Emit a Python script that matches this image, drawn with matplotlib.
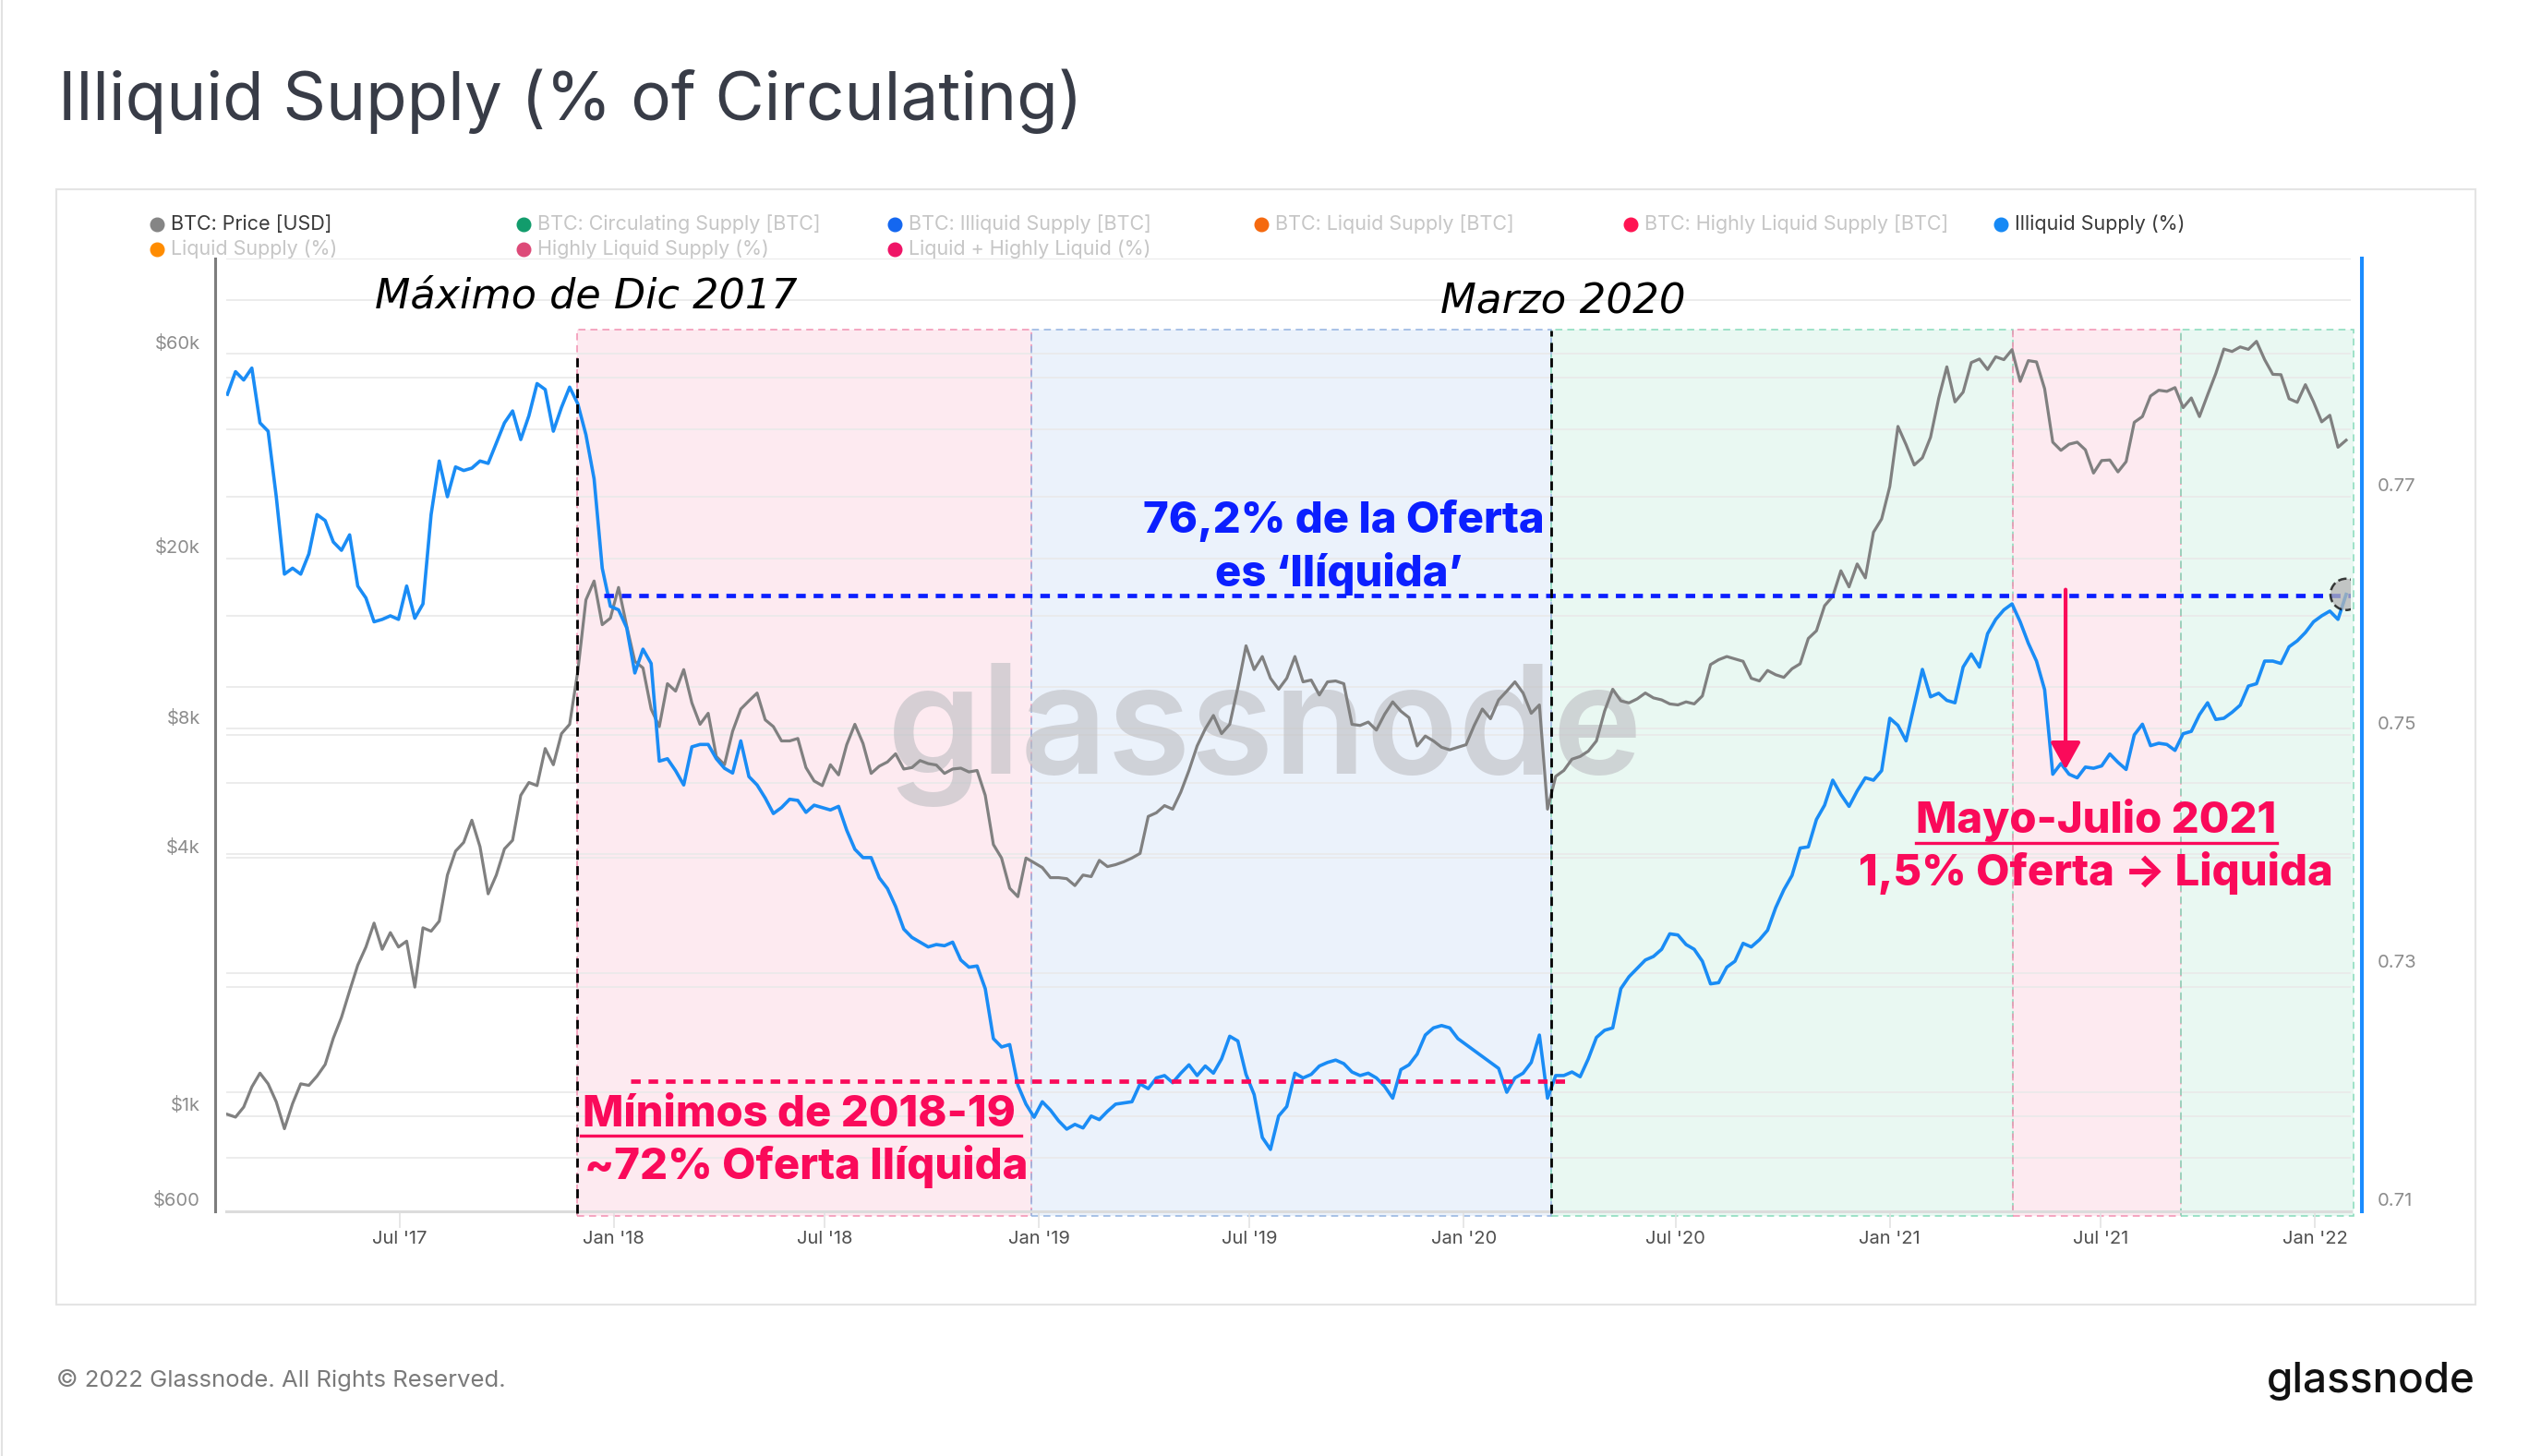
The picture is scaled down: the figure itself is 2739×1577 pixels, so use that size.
import numpy as np
import pandas as pd
import matplotlib
matplotlib.use('Agg')
import matplotlib.pyplot as plt
import matplotlib.dates as mdates
import matplotlib.transforms as mtransforms
from matplotlib.patches import Rectangle, Circle
from matplotlib.lines import Line2D
from matplotlib.ticker import NullLocator

plt.rcParams['font.family'] = ['Inter', 'DejaVu Sans']

# ---- data (weekly, Fridays, 2017-02-03 .. 2022-01-28) ----
weeks = pd.date_range('2017-02-03', periods=261, freq='7D')

btc_price = [
    # 2017
    1010, 995, 1050, 1170,
    1260, 1190, 1080, 935, 1070,
    1190, 1180, 1240, 1320,
    1520, 1700, 1960, 2250,
    2480, 2820, 2450, 2680, 2480,
    2560, 2000, 2750, 2700,
    2850, 3650, 4150, 4350,
    4900, 4250, 3300, 3650, 4200,
    4400, 5600, 6000, 5900,
    7200, 6600, 7800, 8200,
    10900, 16000, 17700, 14000, 14500,
    # 2018
    17100, 13900, 11500, 11100,
    8900, 8100, 10200, 9800,
    11000, 9200, 8200, 8700, 6900,
    6600, 7900, 8900, 9300,
    9700, 8400, 8100, 7500,
    7500, 7600, 6500, 6050, 5900,
    6600, 6250, 7350, 8200,
    7400, 6300, 6550, 6700, 7000,
    6450, 6500, 6750, 6640,
    6590, 6300, 6450, 6480,
    6350, 6400, 5600, 4300, 4000,
    3400, 3250, 4000, 3900,
    # 2019
    3800, 3600, 3600, 3580,
    3450, 3650, 3620, 3950,
    3820, 3860, 3920, 4000, 4100,
    5000, 5100, 5300, 5200,
    5700, 6400, 7300, 8000, 8600,
    7800, 8200, 10000, 12500,
    11000, 11800, 10500, 9900,
    10500, 11800, 10300, 10400, 9600,
    10300, 10350, 10200, 8200,
    8150, 8300, 7950, 8650,
    9250, 8800, 8500, 7300, 7700,
    7500, 7250, 7150, 7250,
    # 2020
    7350, 8150, 8900, 8450, 9350,
    9800, 10300, 9700, 8700,
    9100, 5200, 6200, 6400,
    6800, 6900, 7100, 7500,
    8800, 9900, 9300, 9200, 9400,
    9700, 9450, 9350, 9150,
    9100, 9250, 9150, 9550, 11300,
    11600, 11800, 11650, 11500,
    10500, 10350, 10950, 10700,
    10550, 11050, 11350, 13000, 13550,
    15500, 16300, 18700, 17150,
    19400, 18000, 23000, 24700,
    # 2021
    29400, 40600, 36800, 33000, 34300,
    38300, 47200, 55900, 46300,
    48800, 57200, 58300, 55100,
    59000, 58100, 61300, 51700, 57800,
    57400, 49700, 37300, 35700,
    36900, 37300, 35800, 31600,
    33800, 33900, 31800, 33600, 41500,
    42800, 47800, 49300, 49000,
    50000, 44900, 47300, 42800,
    48100, 53900, 61500, 60700, 62200,
    61400, 64100, 58100, 53700,
    53600, 47100, 46200, 50800, 46300,
    # 2022
    41600, 43100, 36300, 37700,
]

illiquid_pct = [
    0.7786, 0.7805, 0.7798, 0.7808, 0.7762, 0.7755, 0.7700, 0.7635, 0.7640, 0.7635,
    0.7652, 0.7685, 0.7680, 0.7662, 0.7655, 0.7668, 0.7625, 0.7615, 0.7595, 0.7597,
    0.7600, 0.7597, 0.7625, 0.7598, 0.7610, 0.7685, 0.7730, 0.7700, 0.7725, 0.7722,
    0.7724, 0.7730, 0.7728, 0.7745, 0.7762, 0.7772, 0.7748, 0.7768, 0.7795, 0.7790,
    0.7755, 0.7775, 0.7792, 0.7778, 0.7752, 0.7715, 0.7640, 0.7608, 0.7605, 0.7590,
    0.7552, 0.7572, 0.7560, 0.7478, 0.7480, 0.7470, 0.7458, 0.7490, 0.7492, 0.7492,
    0.7480, 0.7472, 0.7468, 0.7495, 0.7465, 0.7458, 0.7447, 0.7434, 0.7439, 0.7446,
    0.7445, 0.7435, 0.7441, 0.7439, 0.7437, 0.7440, 0.7420, 0.7404, 0.7397, 0.7397,
    0.7380, 0.7371, 0.7356, 0.7337, 0.7330, 0.7326, 0.7322, 0.7324, 0.7323, 0.7326,
    0.7311, 0.7305, 0.7306, 0.7287, 0.7245, 0.7238, 0.7240, 0.7206, 0.7190, 0.7179,
    0.7192, 0.7185, 0.7176, 0.7169, 0.7173, 0.7170, 0.7180, 0.7177, 0.7184, 0.7190,
    0.7191, 0.7192, 0.7207, 0.7203, 0.7212, 0.7214, 0.7208, 0.7216, 0.7223, 0.7214,
    0.7222, 0.7216, 0.7228, 0.7247, 0.7243, 0.7215, 0.7198, 0.7162, 0.7152, 0.7180,
    0.7188, 0.7216, 0.7212, 0.7215, 0.7222, 0.7225, 0.7227, 0.7224, 0.7217, 0.7214,
    0.7216, 0.7212, 0.7205, 0.7195, 0.7219, 0.7223, 0.7232, 0.7248, 0.7254, 0.7256,
    0.7254, 0.7245, 0.7240, 0.7235, 0.7230, 0.7225, 0.7220, 0.7200, 0.7212, 0.7216,
    0.7225, 0.7248, 0.7195, 0.7214, 0.7214, 0.7217, 0.7213, 0.7228, 0.7246, 0.7252,
    0.7254, 0.7287, 0.7297, 0.7304, 0.7311, 0.7314, 0.7320, 0.7333, 0.7332, 0.7324,
    0.7320, 0.7310, 0.7291, 0.7292, 0.7305, 0.7310, 0.7325, 0.7322, 0.7328, 0.7336,
    0.7355, 0.7370, 0.7382, 0.7405, 0.7406, 0.7429, 0.7441, 0.7462, 0.7450, 0.7440,
    0.7453, 0.7464, 0.7462, 0.7470, 0.7514, 0.7508, 0.7495, 0.7525, 0.7555, 0.7532,
    0.7535, 0.7529, 0.7527, 0.7557, 0.7568, 0.7557, 0.7585, 0.7597, 0.7605, 0.7610,
    0.7595, 0.7577, 0.7562, 0.7538, 0.7467, 0.7476, 0.7467, 0.7464, 0.7473, 0.7472,
    0.7474, 0.7484, 0.7477, 0.7471, 0.7500, 0.7509, 0.7491, 0.7493, 0.7492, 0.7487,
    0.7501, 0.7503, 0.7517, 0.7527, 0.7513, 0.7514, 0.7519, 0.7525, 0.7541, 0.7543,
    0.7562, 0.7562, 0.7560, 0.7574, 0.7579, 0.7586, 0.7595, 0.7600, 0.7604, 0.7597,
    0.7618,
]

# phases shaded behind the lines
phase_start = ['2017-11-30', '2018-12-26', '2020-03-16', '2021-04-17', '2021-09-08']
phase_end = ['2018-12-26', '2020-03-16', '2021-04-17', '2021-09-08', '2022-02-03']
phase_kind = ['bear', 'accum', 'bull', 'bear', 'bull']

price_ticks = [600, 1000, 4000, 8000, 20000, 60000]
price_tick_labels = ['$600', '$1k', '$4k', '$8k', '$20k', '$60k']
price_grid = [600, 800, 1000, 2000, 4000, 6000, 8000, 10000, 20000, 40000, 60000, 80000, 100000]
illiq_ticks = [0.71, 0.73, 0.75, 0.77]
illiq_grid = [0.71, 0.72, 0.73, 0.74, 0.75, 0.76, 0.77, 0.78, 0.79]
date_ticks = ['2017-07-01', '2018-01-01', '2018-07-01', '2019-01-01', '2019-07-01',
              '2020-01-01', '2020-07-01', '2021-01-01', '2021-07-01', '2022-01-01']
date_tick_labels = ["Jul '17", "Jan '18", "Jul '18", "Jan '19", "Jul '19",
                    "Jan '20", "Jul '20", "Jan '21", "Jul '21", "Jan '22"]

legend_rows = [
    [('BTC: Price [USD]', '#858585', True),
     ('BTC: Circulating Supply [BTC]', '#129c6c', False),
     ('BTC: Illiquid Supply [BTC]', '#1467f0', False),
     ('BTC: Liquid Supply [BTC]', '#f5690f', False),
     ('BTC: Highly Liquid Supply [BTC]', '#ff1452', False),
     ('Illiquid Supply (%)', '#1689f5', True)],
    [('Liquid Supply (%)', '#ff8c00', False),
     ('Highly Liquid Supply (%)', '#dd4a78', False),
     ('Liquid + Highly Liquid (%)', '#ef1466', False)],
]

level_high = 0.7617   # 76,2 %
level_low = 0.7209    # ~72 %

# ---- figure ----
W, H, DPI = 2739, 1577, 100
fig = plt.figure(figsize=(W / DPI, H / DPI), dpi=DPI)
fig.patch.set_facecolor('white')


def fx(x):
    return x / W


def fy(y):
    return 1 - y / H


PINK = '#fa0a5a'
BLUE_TXT = '#0b1fff'
fill_col = {'bear': '#fdeaf0', 'accum': '#ebf2fb', 'bull': '#e9f8f2'}
edge_col = {'bear': '#f291b2', 'accum': '#93b3e0', 'bull': '#86dbbb'}

ax = fig.add_axes([fx(245), fy(1312), (2546 - 245) / W, (1312 - 280) / H])
ax2 = ax.twinx()

d = lambda s: mdates.date2num(pd.Timestamp(s))
xy_blend = mtransforms.blended_transform_factory(ax.transData, ax.transAxes)
xy_blend2 = mtransforms.blended_transform_factory(ax2.transData, ax2.transAxes)

# shaded phases
for s, e, k in zip(phase_start, phase_end, phase_kind):
    x0, x1 = d(s), d(e)
    ax.add_patch(Rectangle((x0, -0.005), x1 - x0, 0.9304, transform=xy_blend,
                           facecolor=fill_col[k], edgecolor='none', zorder=0, clip_on=False))
    ax.add_patch(Rectangle((x0, -0.005), x1 - x0, 0.9304, transform=xy_blend,
                           fill=False, edgecolor=edge_col[k], lw=1.1, ls=(0, (5, 3.5)),
                           zorder=0.6, clip_on=False))

# grid lines (both scales)
for v in price_grid:
    ax.axhline(v, color='#e9e9e9', lw=1.2, zorder=0.5)
for v in illiq_grid:
    f = (v - 0.71) / 0.08
    ax.plot([0, 1], [f, f], transform=ax.transAxes, color='#e9e9e9', lw=1.2, zorder=0.5)

# watermark
ax.text(0.489, 0.459, 'glassnode', transform=ax.transAxes, ha='center', va='baseline',
        fontsize=118, weight='semibold', color='#bdbdc2', alpha=0.6, zorder=1.5)

ax.plot(weeks, btc_price, color='#808080', lw=2.3, zorder=2)
ax2.plot(weeks, illiquid_pct, color='#1a8cf5', lw=2.6, zorder=2)

# reference lines
ax2.plot([d('2017-12-23'), d('2022-02-01')], [level_high, level_high], color=BLUE_TXT,
         lw=3.4, dashes=(2.2, 1.8), zorder=3)
ax2.plot([d('2018-01-15'), d('2020-03-29')], [level_low, level_low], color=PINK,
         lw=3.4, dashes=(2.2, 1.8), zorder=3)
ax2.plot([d('2017-11-30'), d('2017-11-30')], [-0.002, 0.898], transform=xy_blend2,
         color='black', lw=2, dashes=(3.5, 2.5), zorder=4, clip_on=False)
ax2.plot([d('2020-03-16'), d('2020-03-16')], [-0.002, 0.924], transform=xy_blend2,
         color='black', lw=2, dashes=(3.5, 2.5), zorder=4, clip_on=False)
ax2.annotate('', xy=(d('2021-06-01'), 0.7471), xytext=(d('2021-06-01'), 0.7622),
             arrowprops=dict(arrowstyle='-|>,head_length=0.9,head_width=0.5', color=PINK,
                             lw=3, mutation_scale=20, shrinkA=0, shrinkB=0), zorder=5)

# hover marker at the last value
hover = Circle((0, 0), 17 / DPI, facecolor='#b5b5b5', alpha=0.75, edgecolor='black',
               ls='--', lw=1.8,
               transform=fig.dpi_scale_trans + mtransforms.ScaledTranslation(
                   d(weeks[-1]), illiquid_pct[-1], ax2.transData), zorder=6)
ax2.add_artist(hover)

# axes / scales
ax.set_yscale('log')
ax.set_ylim(600, 100000)
ax.set_xlim(d('2017-02-02'), d('2022-02-01'))
ax2.set_ylim(0.71, 0.79)
ax.yaxis.set_minor_locator(NullLocator())
ax.set_yticks([])
ax2.set_yticks([])
ax.tick_params(axis='y', which='both', left=False, labelleft=False)
ax2.tick_params(axis='y', which='both', right=False, labelright=False)

ax.set_xticks([d(t) for t in date_ticks])
ax.set_xticklabels(date_tick_labels)
ax.tick_params(axis='x', length=13, width=1.2, color='#e3e3e3', pad=2,
               labelsize=14.5, labelcolor='#505050')

for sp in ['top', 'right']:
    ax.spines[sp].set_visible(False)
for sp in ['top', 'left', 'bottom']:
    ax2.spines[sp].set_visible(False)
ax.spines['left'].set_position(('outward', 12 * 72 / DPI))
ax.spines['left'].set_color('#7d7d7d')
ax.spines['left'].set_linewidth(2.2)
ax.spines['bottom'].set_color('#dcdcdc')
ax.spines['bottom'].set_linewidth(2.2)
ax2.spines['right'].set_position(('outward', 12 * 72 / DPI))
ax2.spines['right'].set_color('#1a8cff')
ax2.spines['right'].set_linewidth(2.9)

lt = mtransforms.blended_transform_factory(ax.transAxes, ax.transData) + \
    mtransforms.ScaledTranslation(-28 / DPI, 11 / DPI, fig.dpi_scale_trans)
for v, lab in zip(price_ticks, price_tick_labels):
    ax.text(0, v, lab, transform=lt, ha='right', va='center', fontsize=14.5, color='#8c8c8c')
rt = mtransforms.blended_transform_factory(ax2.transAxes, ax2.transData) + \
    mtransforms.ScaledTranslation(29 / DPI, 11 / DPI, fig.dpi_scale_trans)
for v in illiq_ticks:
    ax2.text(1, v, f'{v:.2f}', transform=rt, ha='left', va='center', fontsize=14.5, color='#8c8c8c')

# ---- page decoration ----
fig.add_artist(Rectangle((fx(61), fy(1413)), (2681 - 61) / W, (1413 - 205) / H,
                         transform=fig.transFigure, fill=False, edgecolor='#e4e4e4', lw=1.5, zorder=-1))
fig.add_artist(Line2D([fx(2), fx(2)], [0, 1], transform=fig.transFigure, color='#e2e2e2', lw=1.5))

fig.text(fx(63), fy(130), 'Illiquid Supply (% of Circulating)', fontsize=52.5,
         color='#383c47', va='baseline', ha='left')

legend_x = [170, 567, 969, 1366, 1766, 2167]
legend_y = [243, 270]
for r, row in enumerate(legend_rows):
    for c, (name, col, active) in enumerate(row):
        fig.add_artist(Line2D([fx(legend_x[c])], [fy(legend_y[r])], transform=fig.transFigure,
                              marker='o', ms=10.5, color=col, lw=0))
        fig.text(fx(legend_x[c] + 15), fy(legend_y[r]), name, fontsize=15.5, va='center',
                 ha='left', color='#3a3a3a' if active else '#c6c6c6')

fig.text(fx(61), fy(1495), '\u00a9 2022 Glassnode. All Rights Reserved.', fontsize=18.5,
         color='#7a7a7a', va='center', ha='left')
fig.text(fx(2681), fy(1508), 'glassnode', fontsize=33, weight='medium', color='#111111',
         va='baseline', ha='right')

# ---- annotations ----
fig.text(fx(406), fy(334), 'Máximo de Dic 2017', fontsize=32, style='italic',
         family='DejaVu Sans', color='black', va='baseline', ha='left')
fig.text(fx(1560), fy(340), 'Marzo 2020', fontsize=32.5, style='italic',
         family='DejaVu Sans', color='black', va='baseline', ha='left')

fig.text(fx(1455), fy(577), '76,2% de la Oferta', fontsize=34, weight='heavy',
         color=BLUE_TXT, va='baseline', ha='center')
fig.text(fx(1450), fy(635), 'es \u2018Ilíquida\u2019', fontsize=34, weight='heavy',
         color=BLUE_TXT, va='baseline', ha='center')

fig.text(fx(631), fy(1220), 'Mínimos de 2018-19', fontsize=34, weight='heavy',
         color=PINK, va='baseline', ha='left')
fig.add_artist(Line2D([fx(629), fx(1106)], [fy(1230), fy(1230)], transform=fig.transFigure,
                      color=PINK, lw=2.4))
fig.text(fx(633), fy(1277), '~72% Oferta Ilíquida', fontsize=34, weight='heavy',
         color=PINK, va='baseline', ha='left')

fig.text(fx(2270), fy(902), 'Mayo-Julio 2021', fontsize=34, weight='heavy',
         color=PINK, va='baseline', ha='center')
fig.add_artist(Line2D([fx(2075), fx(2466)], [fy(913), fy(913)], transform=fig.transFigure,
                      color=PINK, lw=2.4))
fig.text(fx(2270), fy(959), '1,5% Oferta \u2192 Liquida', fontsize=34, weight='heavy',
         color=PINK, va='baseline', ha='center')

fig.savefig('out.png', dpi=DPI, facecolor='white')
